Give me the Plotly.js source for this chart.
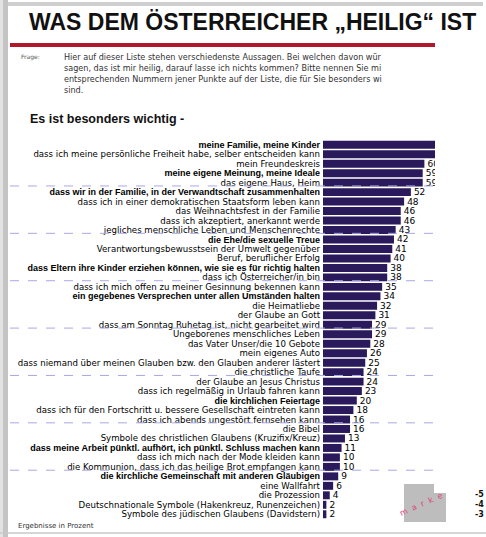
<!DOCTYPE html>
<html>
<head>
<meta charset="utf-8">
<script src="https://cdn.plot.ly/plotly-3.0.1.min.js"></script>
<style>html,body{margin:0;padding:0;background:#fff;}#chart{width:486px;height:537px;}</style>
</head>
<body>
<div id="chart"></div>
<script>
// ---- data ----
const items = [
  "meine Familie, meine Kinder",
  "dass ich meine persönliche Freiheit habe, selber entscheiden kann",
  "mein Freundeskreis",
  "meine eigene Meinung, meine Ideale",
  "das eigene Haus, Heim",
  "dass wir in der Familie, in der Verwandtschaft zusammenhalten",
  "dass ich in einer demokratischen Staatsform leben kann",
  "das Weihnachtsfest in der Familie",
  "dass ich akzeptiert, anerkannt werde",
  "jegliches menschliche Leben und Menschenrechte",
  "die Ehe/die sexuelle Treue",
  "Verantwortungsbewusstsein der Umwelt gegenüber",
  "Beruf, beruflicher Erfolg",
  "dass Eltern ihre Kinder erziehen können, wie sie es für richtig halten",
  "dass ich Österreicher/in bin",
  "dass ich mich offen zu meiner Gesinnung bekennen kann",
  "ein gegebenes Versprechen unter allen Umständen halten",
  "die Heimatliebe",
  "der Glaube an Gott",
  "dass am Sonntag Ruhetag ist, nicht gearbeitet wird",
  "Ungeborenes menschliches Leben",
  "das Vater Unser/die 10 Gebote",
  "mein eigenes Auto",
  "dass niemand über meinen Glauben bzw. den Glauben anderer lästert",
  "die christliche Taufe",
  "der Glaube an Jesus Christus",
  "dass ich regelmäßig in Urlaub fahren kann",
  "die kirchlichen Feiertage",
  "dass ich für den Fortschritt u. bessere Gesellschaft eintreten kann",
  "dass ich abends ungestört fernsehen kann",
  "die Bibel",
  "Symbole des christlichen Glaubens (Kruzifix/Kreuz)",
  "dass meine Arbeit pünktl. aufhört, ich pünktl. Schluss machen kann",
  "dass ich mich nach der Mode kleiden kann",
  "die Kommunion, dass ich das heilige Brot empfangen kann",
  "die kirchliche Gemeinschaft mit anderen Gläubigen",
  "eine Wallfahrt",
  "die Prozession",
  "Deutschnationale Symbole (Hakenkreuz, Runenzeichen)",
  "Symbole des jüdischen Glaubens (Davidstern)"
];
const percent = [78, 70, 60, 59, 59, 52, 48, 46, 46, 43, 42, 41, 40, 38, 38, 35, 34, 32, 31, 29,
                 29, 28, 26, 25, 24, 24, 23, 20, 18, 16, 16, 13, 11, 10, 10, 9, 6, 4, 2, 2];
const titleText = "WAS DEM ÖSTERREICHER „HEILIG“ IST";
const frageLines = [
  "Hier auf dieser Liste stehen verschiedenste Aussagen. Bei welchen davon wür",
  "sagen, das ist mir heilig, darauf lasse ich nichts kommen? Bitte nennen Sie mi",
  "entsprechenden Nummern jener Punkte auf der Liste, die für Sie besonders wi",
  "sind."
];
const subtitleText = "Es ist besonders wichtig -";
const footText = "Ergebnisse in Prozent";
const sideNums = ["-5", "-4", "-3"];

// ---- style / layout helpers ----
const W = 486, H = 537;
const L = 323, R = 51, T = 140, B = 18;
const pw = W - L - R, ph = H - T - B;
const px = x => (x - L) / pw;
const py = y => 1 - (y - T) / ph;
const boldIdx = new Set([0, 3, 5, 10, 13, 16, 27, 32, 35]);
const fontF = "DejaVu Sans, Liberation Sans, sans-serif";

const ticktext = items.map((s, i) => boldIdx.has(i)
  ? "<span style=\"font-family:'Liberation Sans', Arial, sans-serif;font-size:9px\"><b>" + s + "</b></span>"
  : s);

const trace = {
  type: "bar", orientation: "h",
  y: items, x: percent,
  marker: {color: "#2a1a5c", line: {width: 0}},
  text: percent.map(String), textposition: "outside",
  textfont: {family: fontF, size: 9, color: "#000"},
  constraintext: "none", cliponaxis: true,
  hoverinfo: "none", width: 0.84
};

const shapes = [];
// borders
shapes.push({type:"rect", xref:"paper", yref:"paper", x0:px(0), x1:px(3), y0:py(0), y1:py(537), fillcolor:"#e2e2e2", line:{width:0}, layer:"below"});
shapes.push({type:"rect", xref:"paper", yref:"paper", x0:px(3), x1:px(8), y0:py(0), y1:py(537), fillcolor:"#c4c4c4", line:{width:0}, layer:"below"});
shapes.push({type:"rect", xref:"paper", yref:"paper", x0:px(8), x1:px(483), y0:py(2), y1:py(6), fillcolor:"#cfcfcf", line:{width:0}, layer:"below"});
shapes.push({type:"line", xref:"paper", yref:"paper", x0:px(0), x1:px(486), y0:py(533), y1:py(533), line:{color:"#c8c8c8", width:1.5}});
// red rule
shapes.push({type:"rect", xref:"paper", yref:"paper", x0:px(10), x1:px(435), y0:py(43), y1:py(47), fillcolor:"#b3172c", line:{width:0}});
// dashed group separators
for (let k = 5; k < items.length; k += 5) {
  const yy = T + (k - 0.15) * ph / items.length;
  shapes.push({type:"line", xref:"paper", yref:"paper", x0:px(10), x1:px(435), y0:py(yy), y1:py(yy),
               line:{color:"#a9a9e6", width:1, dash:"dash"}, layer:"above"});
}
// grey stamp box
shapes.push({type:"rect", xref:"paper", yref:"paper", x0:px(404), x1:px(446), y0:py(484), y1:py(522), fillcolor:"#bdbdbd", line:{width:0}});
shapes.push({type:"rect", xref:"paper", yref:"paper", x0:px(434), x1:px(447), y0:py(483), y1:py(493), fillcolor:"#ffffff", line:{width:0}});

const ann = [];
ann.push({text:"<b>"+titleText+"</b>", xref:"paper", yref:"paper", x:px(27), y:py(22), xanchor:"left", yanchor:"middle",
          showarrow:false, font:{family:"Liberation Sans, Arial, sans-serif", size:23, color:"#111"}});
ann.push({text:"Frage:", xref:"paper", yref:"paper", x:px(19), y:py(57), xanchor:"left", yanchor:"middle",
          showarrow:false, font:{family:fontF, size:6, color:"#555"}});
frageLines.forEach((t, i) => ann.push({text:t, xref:"paper", yref:"paper", x:px(62), y:py(57 + i * 11), xanchor:"left", yanchor:"middle",
          showarrow:false, font:{family:fontF, size:8.1, color:"#333"}}));
ann.push({text:subtitleText, xref:"paper", yref:"paper", x:px(28), y:py(119), xanchor:"left", yanchor:"middle",
          showarrow:false, font:{family:"Liberation Sans, Arial, sans-serif", size:12.5, color:"#111", weight:700}});
ann.push({text:footText, xref:"paper", yref:"paper", x:px(16), y:py(526), xanchor:"left", yanchor:"middle",
          showarrow:false, font:{family:fontF, size:7, color:"#333"}});
ann.push({text:"m  a  r  k  e", xref:"paper", yref:"paper", x:px(421), y:py(504), xanchor:"center", yanchor:"middle",
          showarrow:false, textangle:-24, font:{family:fontF, size:8, color:"#e0457b"}});
sideNums.forEach((t, i) => ann.push({text:"<b>"+t+"</b>", xref:"paper", yref:"paper", x:px(473), y:py(494 + i * 10), xanchor:"left", yanchor:"middle",
          showarrow:false, font:{family:fontF, size:8, color:"#111"}}));

const layout = {
  width: W, height: H,
  margin: {l: L, r: R, t: T, b: B, pad: 0},
  paper_bgcolor: "#fff", plot_bgcolor: "rgba(0,0,0,0)",
  showlegend: false, bargap: 0.16,
  xaxis: {range: [0, pw / 1.69], visible: false, fixedrange: true},
  yaxis: {type: "category", range: [items.length - 0.5, -0.5], tickmode: "array", tickvals: items, ticktext: ticktext,
          showgrid: false, zeroline: false, showline: false, ticks: "", ticklabelstandoff: 2,
          tickfont: {family: fontF, size: 8.6, color: "#000"}, automargin: false},
  shapes: shapes, annotations: ann
};

Plotly.newPlot("chart", [trace], layout, {staticPlot: true, displayModeBar: false});
</script>
</body>
</html>
